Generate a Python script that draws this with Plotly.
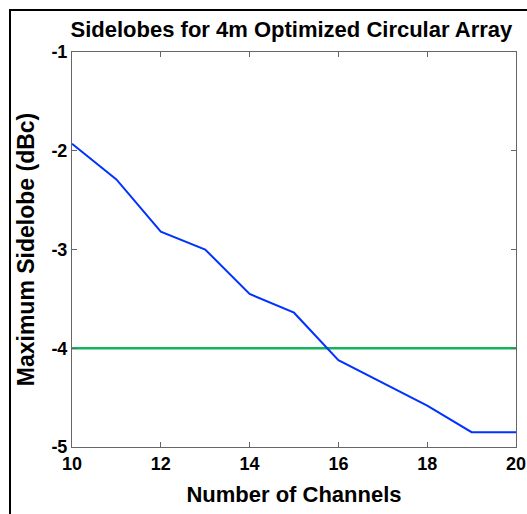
import plotly.graph_objects as go

channels = [10, 11, 12, 13, 14, 15, 16, 17, 18, 19, 20]
sidelobe = [-1.93, -2.29, -2.82, -3.00, -3.45, -3.64, -4.12, -4.35, -4.58, -4.85, -4.85]
threshold_x = [10, 20]
threshold_y = [-4, -4]

x_ticks = [10, 12, 14, 16, 18, 20]
y_ticks = [-5, -4, -3, -2, -1]
y_ticktext = ["-5", "-4", "-3", "-2", "-1"]

fig = go.Figure()
fig.add_trace(go.Scatter(x=threshold_x, y=threshold_y, mode="lines",
                         line=dict(color="rgb(20,180,90)", width=2.5), showlegend=False))
fig.add_trace(go.Scatter(x=channels, y=sidelobe, mode="lines",
                         line=dict(color="rgb(0,51,255)", width=2), showlegend=False))

axfont = dict(family="Arial", size=18, color="black", weight="bold")
fig.update_layout(
    width=527, height=514,
    margin=dict(l=72, r=11, t=52, b=67),
    paper_bgcolor="white", plot_bgcolor="white",
    title=dict(text="Sidelobes for 4m Optimized Circular Array", x=0.553, xanchor="center",
               y=0.943, yanchor="middle",
               font=dict(family="Arial", size=22, color="black", weight="bold")),
    xaxis=dict(range=[10, 20], tickvals=x_ticks, showgrid=False, zeroline=False,
               showline=True, linecolor="#666", linewidth=1, mirror="ticks",
               ticks="inside", ticklen=5, tickcolor="#666", tickfont=axfont,
               automargin=False,
               title=dict(text="Number of Channels", standoff=14,
                          font=dict(family="Arial", size=22, color="black", weight="bold"))),
    yaxis=dict(range=[-5, -1], tickvals=y_ticks, ticktext=y_ticktext, showgrid=False,
               zeroline=False, automargin=False,
               showline=True, linecolor="#666", linewidth=1, mirror="ticks",
               ticks="inside", ticklen=5, tickcolor="#666", tickfont=axfont,
               title=dict(text="Maximum Sidelobe (dBc)", standoff=10,
                          font=dict(family="Arial", size=23, color="black", weight="bold"))),
    shapes=[dict(type="rect", xref="paper", yref="paper",
                 x0=(10 - 72) / 444, x1=(540 - 72) / 444,
                 y0=(447 - 530) / 395, y1=(447 - 10) / 395,
                 line=dict(color="black", width=2), fillcolor="rgba(0,0,0,0)", layer="below")],
)

fig.write_html("out.html")
